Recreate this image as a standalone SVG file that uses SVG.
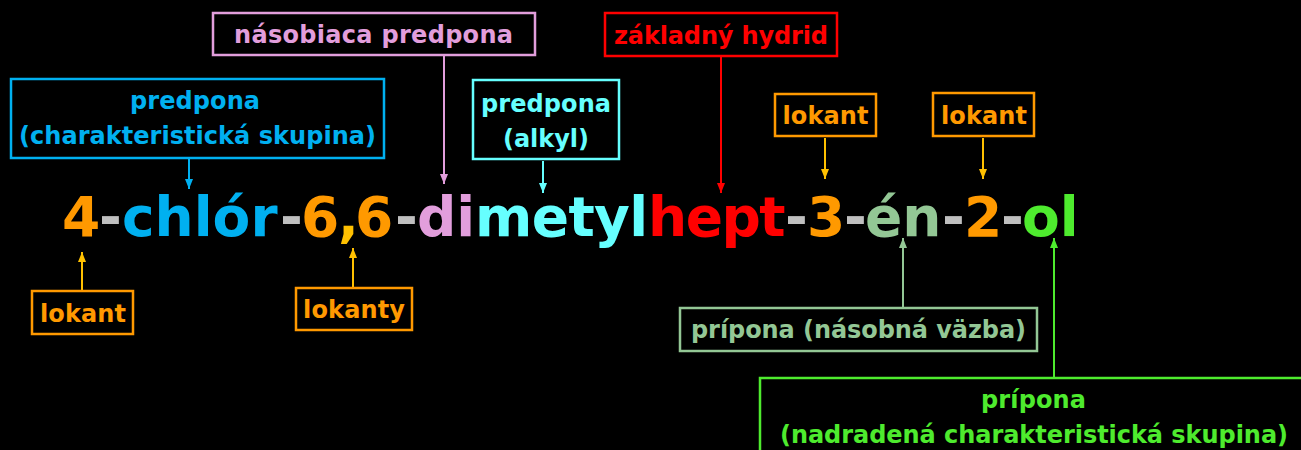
<svg xmlns="http://www.w3.org/2000/svg" width="1301" height="450" viewBox="0 0 1301 450">
<defs>
<style>
text{font-family:"DejaVu Sans","Liberation Sans",sans-serif;font-weight:bold}
.f{font-size:55px}
.b{font-size:24px;text-anchor:middle}
.box{fill:none;stroke-width:2.5}
.ln{fill:none;stroke-width:2}
.or{fill:#FF9900}
.gr{fill:#BFBFBF}
</style>
<marker id="aBlue" markerUnits="userSpaceOnUse" markerWidth="10" markerHeight="10" viewBox="0 0 10 10" refX="10" refY="5" orient="auto"><path d="M0,1 L10,5 L0,9 z" fill="#00B0F0"/></marker>
<marker id="aPink" markerUnits="userSpaceOnUse" markerWidth="10" markerHeight="10" viewBox="0 0 10 10" refX="10" refY="5" orient="auto"><path d="M0,1 L10,5 L0,9 z" fill="#E29EDC"/></marker>
<marker id="aCyan" markerUnits="userSpaceOnUse" markerWidth="10" markerHeight="10" viewBox="0 0 10 10" refX="10" refY="5" orient="auto"><path d="M0,1 L10,5 L0,9 z" fill="#66FFFF"/></marker>
<marker id="aRed" markerUnits="userSpaceOnUse" markerWidth="10" markerHeight="10" viewBox="0 0 10 10" refX="10" refY="5" orient="auto"><path d="M0,1 L10,5 L0,9 z" fill="#FF0000"/></marker>
<marker id="aYel" markerUnits="userSpaceOnUse" markerWidth="10" markerHeight="10" viewBox="0 0 10 10" refX="10" refY="5" orient="auto"><path d="M0,1 L10,5 L0,9 z" fill="#FFC000"/></marker>
<marker id="aLg" markerUnits="userSpaceOnUse" markerWidth="10" markerHeight="10" viewBox="0 0 10 10" refX="10" refY="5" orient="auto"><path d="M0,1 L10,5 L0,9 z" fill="#93C795"/></marker>
<marker id="aG" markerUnits="userSpaceOnUse" markerWidth="10" markerHeight="10" viewBox="0 0 10 10" refX="10" refY="5" orient="auto"><path d="M0,1 L10,5 L0,9 z" fill="#4EEB2E"/></marker>
</defs>
<rect x="0" y="0" width="1301" height="450" fill="#000"/>

<g id="formula">
<text class="f" y="236"><tspan x="62" class="or">4</tspan><tspan x="99" class="gr">-</tspan><tspan x="122" fill="#00B0F0">chlór</tspan><tspan x="280" class="gr">-</tspan><tspan x="301" class="or">6</tspan><tspan x="338" fill="#FFC000" letter-spacing="-5">,</tspan><tspan x="355" class="or">6</tspan><tspan x="395" class="gr">-</tspan><tspan x="417" fill="#E29EDC">di</tspan><tspan x="475" fill="#66FFFF" letter-spacing="-0.6">metyl</tspan><tspan x="648" fill="#FF0000" letter-spacing="-1.5">hept</tspan><tspan x="785" class="gr">-</tspan><tspan x="807" class="or">3</tspan><tspan x="844" class="gr">-</tspan><tspan x="865" fill="#93C795">én</tspan><tspan x="942" class="gr">-</tspan><tspan x="964" class="or">2</tspan><tspan x="1001" class="gr">-</tspan><tspan x="1022" fill="#4EEB2E">ol</tspan></text>
</g>

<g id="connectors">
<path class="ln" stroke="#00B0F0" d="M189,159 L189,189" marker-end="url(#aBlue)"/>
<path class="ln" stroke="#E29EDC" d="M444,56 L444,184" marker-end="url(#aPink)"/>
<path class="ln" stroke="#66FFFF" d="M543,161 L543,193" marker-end="url(#aCyan)"/>
<path class="ln" stroke="#FF0000" d="M721,57 L721,193" marker-end="url(#aRed)"/>
<path class="ln" stroke="#FFC000" d="M825,138 L825,179" marker-end="url(#aYel)"/>
<path class="ln" stroke="#FFC000" d="M983,138 L983,179" marker-end="url(#aYel)"/>
<path class="ln" stroke="#FFC000" d="M82,290 L82,252" marker-end="url(#aYel)"/>
<path class="ln" stroke="#FFC000" d="M353,287 L353,248" marker-end="url(#aYel)"/>
<path class="ln" stroke="#93C795" d="M903,307 L903,238" marker-end="url(#aLg)"/>
<path class="ln" stroke="#4EEB2E" d="M1054,377 L1054,238" marker-end="url(#aG)"/>
</g>

<g id="n-predpona-char">
<rect class="box" x="11" y="79" width="373" height="79" stroke="#00B0F0"/>
<text class="b" x="195" y="109" fill="#00B0F0" textLength="130">predpona</text>
<text class="b" x="197.5" y="144" fill="#00B0F0" textLength="357">(charakteristická skupina)</text>
</g>

<g id="n-nasobiaca">
<rect class="box" x="213" y="13" width="322" height="42" stroke="#E29EDC"/>
<text class="b" x="373.5" y="43" fill="#E29EDC" textLength="279">násobiaca predpona</text>
</g>

<g id="n-alkyl">
<rect class="box" x="473" y="80" width="146" height="79" stroke="#66FFFF"/>
<text class="b" x="546" y="112" fill="#66FFFF" textLength="130">predpona</text>
<text class="b" x="546" y="147" fill="#66FFFF" textLength="86">(alkyl)</text>
</g>

<g id="n-hydrid">
<rect class="box" x="605" y="13" width="232" height="43" stroke="#FF0000"/>
<text class="b" x="721" y="44" fill="#FF0000" textLength="214">základný hydrid</text>
</g>

<g id="n-lokant-3">
<rect class="box" x="775" y="94" width="101" height="42" stroke="#FF9900"/>
<text class="b" x="825.5" y="124" fill="#FF9900" textLength="86">lokant</text>
</g>

<g id="n-lokant-2">
<rect class="box" x="933" y="93" width="101" height="43" stroke="#FF9900"/>
<text class="b" x="984" y="124" fill="#FF9900" textLength="86">lokant</text>
</g>

<g id="n-lokant-4">
<rect class="box" x="32" y="291" width="101" height="43" stroke="#FF9900"/>
<text class="b" x="83" y="322" fill="#FF9900" textLength="86">lokant</text>
</g>

<g id="n-lokanty">
<rect class="box" x="296" y="288" width="116" height="42" stroke="#FF9900"/>
<text class="b" x="354" y="318" fill="#FF9900" textLength="102">lokanty</text>
</g>

<g id="n-pripona-vazba">
<rect class="box" x="680" y="308" width="357" height="43" stroke="#93C795"/>
<text class="b" x="858.5" y="338" fill="#93C795" textLength="335">prípona (násobná väzba)</text>
</g>

<g id="n-pripona-char">
<rect class="box" x="760" y="378" width="560" height="100" stroke="#4EEB2E"/>
<text class="b" x="1033.5" y="408" fill="#4EEB2E" textLength="105">prípona</text>
<text class="b" x="1034" y="443" fill="#4EEB2E" textLength="508">(nadradená charakteristická skupina)</text>
</g>
</svg>
